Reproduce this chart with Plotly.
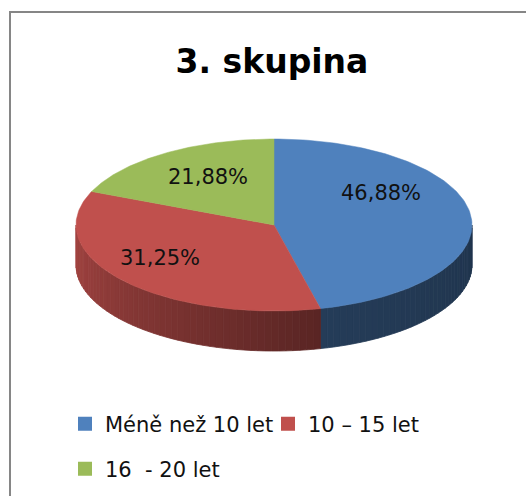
import numpy as np
import plotly.graph_objects as go

# data
categories = ["Méně než 10 let", "10 – 15 let", "16  - 20 let"]
values = [46.88, 31.25, 21.88]
labels = ["46,88%", "31,25%", "21,88%"]
colors = ["#4F81BD", "#C0504D", "#9BBB59"]

# pie geometry in pixel units
cx, cy = 274, 225
rx, ry = 198, 86
depth = 40
persp = 11.9  # fake perspective: front slices look wider


def hex_rgb(h):
    h = h.lstrip("#")
    return [int(h[i:i + 2], 16) for i in (0, 2, 4)]


def shade(col, f):
    r, g, b = hex_rgb(col)
    return f"rgb({int(r * f)},{int(g * f)},{int(b * f)})"


def warp(phi):
    return phi + persp * np.cos(np.radians(phi))


def ell(theta):
    t = np.radians(theta)
    return cx + rx * np.cos(t), cy - ry * np.sin(t)


fig = go.Figure()

# slice angle ranges (clockwise from 12 o'clock), then warped
total = sum(values)
bounds = []
start = 90.0
for v in values:
    end = start - v / total * 360
    bounds.append((warp(start), warp(end)))
    start = end

# side walls (front half only), drawn in thin strips for shading
for (a0, a1), col in zip(bounds, colors):
    lo_a, hi_a = a1 % 360, a0 % 360
    if hi_a <= lo_a:
        hi_a += 360
    f0, f1 = max(lo_a, 180), min(hi_a, 360)
    if f1 <= f0:
        continue
    n = max(int((f1 - f0) / 2), 1)
    edges = np.linspace(f0, f1, n + 1)
    for k in range(n):
        ts = np.linspace(edges[k], edges[k + 1], 4)
        xs, ys = ell(ts)
        fx = list(xs) + list(xs[::-1]) + [xs[0]]
        fy = list(ys) + list(ys[::-1] + depth) + [ys[0]]
        mid = (edges[k] + edges[k + 1]) / 2
        f = np.interp(mid, [180, 283, 360], [0.86, 0.47, 0.41])
        c = shade(col, f)
        fig.add_trace(go.Scatter(x=fx, y=fy, fill="toself", mode="lines",
                                 line=dict(color=c, width=0.8), fillcolor=c,
                                 showlegend=False, hoverinfo="skip"))

# top faces
for (a0, a1), col in zip(bounds, colors):
    ts = np.linspace(a0, a1, 120)
    xs, ys = ell(ts)
    fig.add_trace(go.Scatter(x=[cx] + list(xs) + [cx], y=[cy] + list(ys) + [cy],
                             fill="toself", mode="lines", fillcolor=col,
                             line=dict(color=col, width=0.5),
                             showlegend=False, hoverinfo="skip"))

# legend entries
for i, (cat, col) in enumerate(zip(categories, colors)):
    fig.add_trace(go.Scatter(x=[None], y=[None], mode="markers", name=cat,
                             marker=dict(symbol="square", size=14, color=col),
                             legend="legend" if i < 2 else "legend2"))

# data labels
label_pos = [(381, 193), (160, 258), (208, 177)]
for (lx, ly), t in zip(label_pos, labels):
    fig.add_annotation(x=lx, y=ly, text=t, showarrow=False,
                       font=dict(family="DejaVu Sans", size=21, color="#111"))

fig.add_shape(type="rect", xref="paper", yref="paper",
              x0=10 / 526, y0=-0.05, x1=1.05, y1=1 - 12 / 496,
              line=dict(color="#868686", width=2))

legend_font = dict(family="DejaVu Sans", size=21, color="#111")
fig.update_layout(
    width=526, height=496,
    margin=dict(l=0, r=0, t=0, b=0),
    paper_bgcolor="white", plot_bgcolor="white",
    title=dict(text="<b>3. skupina</b>", x=272 / 526, xanchor="center",
               y=1 - 61 / 496, yanchor="middle",
               font=dict(family="DejaVu Sans", size=33, color="#000")),
    xaxis=dict(range=[0, 526], visible=False, fixedrange=True),
    yaxis=dict(range=[496, 0], visible=False, fixedrange=True),
    legend=dict(orientation="h", x=65 / 526, xanchor="left", y=1 - 424 / 496,
                yanchor="middle", font=legend_font, bgcolor="rgba(0,0,0,0)",
                itemwidth=30, entrywidth=158, entrywidthmode="pixels"),
    legend2=dict(orientation="h", x=65 / 526, xanchor="left", y=1 - 469 / 496,
                 yanchor="middle", font=legend_font, bgcolor="rgba(0,0,0,0)",
                 itemwidth=30),
)

fig.write_html("out.html", config={"displayModeBar": False},
               post_script="document.body.style.margin='0';")
